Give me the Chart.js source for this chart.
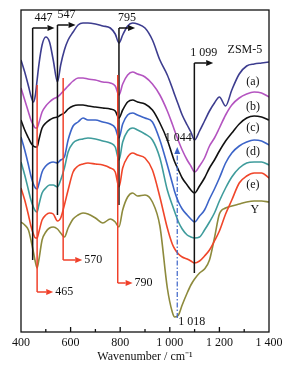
<!DOCTYPE html>
<html>
<head>
<meta charset="utf-8">
<script src="https://cdn.jsdelivr.net/npm/chart.js@4.4.0/dist/chart.umd.min.js"></script>
<style>
  html, body { margin: 0; padding: 0; background: #fff; }
</style>
</head>
<body>
<canvas id="ftir" width="294" height="370"></canvas>
<script>
// wavenumber grid (cm-1)
const wavenumbers = [400, 415, 430, 440, 450, 458, 465, 472, 485, 500,
  515, 530, 547, 560, 575, 590, 610, 630, 650, 670,
  700, 730, 760, 780, 795, 810, 830, 850, 870, 900,
  930, 960, 990, 1010, 1020, 1035, 1050, 1070, 1085, 1100,
  1120, 1140, 1160, 1180, 1200, 1225, 1250, 1280, 1310, 1340,
  1370, 1400];

// transmittance, arbitrary units (curves are offset)
const zsm5 = [272, 260, 246, 236, 230, 237, 252, 267, 287, 295,
  290, 272, 250, 267, 282, 292, 300, 307, 309, 309,
  308, 306, 304, 298, 289, 297, 306, 309, 308, 304,
  292, 272, 257, 244, 237, 227, 217, 207, 200, 192,
  201, 211, 221, 229, 235, 226, 242, 258, 266, 268,
  269, 270];
const sampleA = [244, 232, 220, 212, 207, 204, 204, 209, 220, 226,
  230, 233, 235, 238, 242, 246, 251, 254, 254, 253,
  252, 250, 249, 246, 237, 248, 257, 260, 258, 255,
  248, 237, 221, 208, 201, 191, 182, 172, 166, 160,
  166, 174, 186, 194, 204, 217, 227, 234, 238, 240,
  239, 235];
const sampleB = [212, 202, 194, 189, 186, 185, 185, 192, 204, 209,
  212, 214, 215, 217, 219, 223, 226, 227, 227, 226,
  225, 224, 223, 221, 214, 222, 230, 232, 230, 228,
  222, 209, 192, 177, 170, 162, 154, 147, 142, 139,
  146, 154, 164, 172, 181, 191, 199, 208, 214, 216,
  215, 212];
const sampleC = [195, 182, 167, 156, 148, 144, 143, 148, 160, 166,
  169, 170, 169, 172, 175, 192, 206, 210, 214, 212,
  212, 210, 208, 204, 194, 208, 217, 219, 217, 214,
  210, 192, 167, 149, 140, 130, 123, 117, 113, 110,
  116, 122, 133, 143, 154, 169, 179, 186, 190, 192,
  191, 187];
const sampleD = [170, 157, 142, 132, 125, 121, 120, 127, 139, 144,
  147, 147, 145, 152, 164, 180, 189, 192, 193, 194,
  193, 191, 189, 185, 172, 190, 201, 204, 202, 198,
  192, 174, 142, 127, 120, 110, 103, 97, 95, 94,
  95, 102, 110, 119, 131, 144, 155, 164, 169, 170,
  170, 167];
const sampleE = [144, 132, 117, 106, 98, 94, 94, 100, 112, 117,
  119, 118, 111, 114, 127, 142, 160, 166, 168, 169,
  168, 167, 164, 160, 145, 164, 175, 179, 177, 174,
  162, 135, 104, 88, 83, 78, 75, 73, 71, 69,
  71, 76, 82, 91, 101, 118, 132, 149, 156, 159,
  159, 154];
const zeoliteY = [110, 107, 102, 92, 80, 70, 64, 72, 92, 100,
  104, 105, 103, 99, 95, 104, 113, 117, 119, 118,
  114, 109, 113, 110, 105, 122, 135, 139, 136, 137,
  130, 106, 44, 20, 15, 17, 27, 39, 47, 53,
  59, 63, 72, 94, 118, 124, 126, 128, 130, 131,
  131, 130];

const seriesNames = ["ZSM-5", "(a)", "(b)", "(c)", "(d)", "(e)", "Y"];
const seriesColors = ["#3d3d8f", "#b454c0", "#111111", "#3c64c8", "#3f9c9c", "#f0462a", "#8d8a3c"];
const nameWn = [1303, 1335, 1335, 1335, 1335, 1335, 1343];
const nameY = [282, 250, 225, 204, 180, 147, 122];

// black band markers (top arrows)
const blackBands = [447, 547, 795, 1099];
const blackTop = [304, 307, 304, 269];
const blackBottom = [72, 117, 127, 59];
const blackArrowTo = [535, 620, 860, 1175];
const blackLabels = ["447", "547", "795", "1 099"];

// red band markers (bottom arrows)
const redBands = [465, 570, 790];
const redTop = [247, 254, 257];
const redBottom = [40, 72, 49];
const redArrowTo = [530, 647, 850];
const redLabels = ["465", "570", "790"];

// blue dash-dot shift marker
const shiftWn = 1030;
const shiftFrom = 14;
const shiftTo = 185;
const shiftLabels = ["1 044", "1 018"];

const xTicks = [400, 600, 800, 1000, 1200, 1400];

const allSeries = [zsm5, sampleA, sampleB, sampleC, sampleD, sampleE, zeoliteY];
const serif = "'Liberation Serif', 'Times New Roman', serif";

function arrow(ctx, x1, y1, x2, y2, color) {
  const ang = Math.atan2(y2 - y1, x2 - x1);
  const len = 7, half = 3;
  ctx.beginPath();
  ctx.moveTo(x1, y1);
  ctx.lineTo(x2 - len * Math.cos(ang), y2 - len * Math.sin(ang));
  ctx.stroke();
  ctx.beginPath();
  ctx.moveTo(x2, y2);
  ctx.lineTo(x2 - len * Math.cos(ang) + half * Math.sin(ang), y2 - len * Math.sin(ang) - half * Math.cos(ang));
  ctx.lineTo(x2 - len * Math.cos(ang) - half * Math.sin(ang), y2 - len * Math.sin(ang) + half * Math.cos(ang));
  ctx.closePath();
  ctx.fillStyle = color;
  ctx.fill();
}

const overlay = {
  id: "overlay",
  afterDatasetsDraw(chart) {
    const { ctx, chartArea: a, scales: { x, y } } = chart;
    ctx.save();
    ctx.lineCap = "butt";

    // frame + inner ticks
    ctx.strokeStyle = "#111";
    ctx.lineWidth = 1.3;
    ctx.strokeRect(a.left, a.top, a.right - a.left, a.bottom - a.top);
    for (let w = 500; w < 1400; w += 100) {
      const px = x.getPixelForValue(w);
      ctx.beginPath();
      ctx.moveTo(px, a.bottom);
      ctx.lineTo(px, a.bottom - (w % 200 === 0 ? 5 : 3));
      ctx.stroke();
    }

    ctx.font = "12px " + serif;
    ctx.textBaseline = "middle";

    // black markers
    ctx.strokeStyle = "#111";
    ctx.lineWidth = 1.5;
    blackBands.forEach((w, i) => {
      const px = x.getPixelForValue(w);
      const top = y.getPixelForValue(blackTop[i]);
      ctx.beginPath();
      ctx.moveTo(px, top);
      ctx.lineTo(px, y.getPixelForValue(blackBottom[i]));
      ctx.stroke();
      const end = x.getPixelForValue(blackArrowTo[i]);
      arrow(ctx, px, top, end, top, "#111");
      ctx.fillStyle = "#111";
      ctx.textAlign = "center";
      ctx.fillText(blackLabels[i], (px + end) / 2, top - 10);
    });

    // red markers
    ctx.strokeStyle = "#f0402a";
    redBands.forEach((w, i) => {
      const px = x.getPixelForValue(w);
      const bot = y.getPixelForValue(redBottom[i]);
      ctx.beginPath();
      ctx.moveTo(px, y.getPixelForValue(redTop[i]));
      ctx.lineTo(px, bot);
      ctx.stroke();
      const end = x.getPixelForValue(redArrowTo[i]);
      arrow(ctx, px, bot, end, bot, "#f0402a");
      ctx.fillStyle = "#111";
      ctx.textAlign = "left";
      ctx.fillText(redLabels[i], end + 2, bot);
    });

    // blue dash-dot shift line
    const sx = x.getPixelForValue(shiftWn);
    const sBot = y.getPixelForValue(shiftFrom);
    const sTop = y.getPixelForValue(shiftTo);
    ctx.strokeStyle = "#3c64c8";
    ctx.lineWidth = 1.2;
    ctx.setLineDash([5, 2, 1.5, 2]);
    ctx.beginPath();
    ctx.moveTo(sx, sBot);
    ctx.lineTo(sx, sTop + 6);
    ctx.stroke();
    ctx.setLineDash([]);
    arrow(ctx, sx, sTop + 6, sx, sTop, "#3c64c8");
    ctx.fillStyle = "#111";
    ctx.textAlign = "center";
    ctx.fillText(shiftLabels[0], sx + 1, sTop - 9);
    ctx.textAlign = "left";
    ctx.fillText(shiftLabels[1], sx + 1, sBot + 4);

    // series names
    ctx.textAlign = "center";
    seriesNames.forEach((n, i) => {
      ctx.fillText(n, x.getPixelForValue(nameWn[i]), y.getPixelForValue(nameY[i]));
    });
    ctx.restore();
  }
};

new Chart(document.getElementById("ftir"), {
  type: "line",
  data: {
    datasets: allSeries.map((s, i) => ({
      label: seriesNames[i],
      data: wavenumbers.map((w, j) => ({ x: w, y: s[j] })),
      borderColor: seriesColors[i],
      borderWidth: 1.6,
      pointRadius: 0,
      cubicInterpolationMode: "monotone",
      fill: false,
    })),
  },
  options: {
    responsive: false,
    animation: false,
    devicePixelRatio: 1,
    layout: { padding: { left: 21, right: 25, top: 10, bottom: 0 } },
    plugins: { legend: { display: false }, tooltip: { enabled: false } },
    scales: {
      x: {
        type: "linear",
        min: 400,
        max: 1400,
        afterBuildTicks: (scale) => { scale.ticks = xTicks.map((v) => ({ value: v })); },
        afterFit: (scale) => { scale.height = 38; },
        grid: { display: false, drawTicks: false },
        border: { display: false },
        ticks: {
          padding: 4,
          color: "#111",
          font: { family: serif, size: 12 },
          maxRotation: 0,
          callback: (v) => (v >= 1000 ? String(v).replace(/^(\d)(\d{3})$/, "$1 $2") : String(v)),
        },
        title: {
          display: true,
          text: "Wavenumber / cm\u207B\u00B9",
          color: "#111",
          font: { family: serif, size: 12 },
          padding: { top: 0, bottom: 6 },
        },
      },
      y: { display: false, min: 0, max: 322 },
    },
  },
  plugins: [overlay],
});
</script>
</body>
</html>
